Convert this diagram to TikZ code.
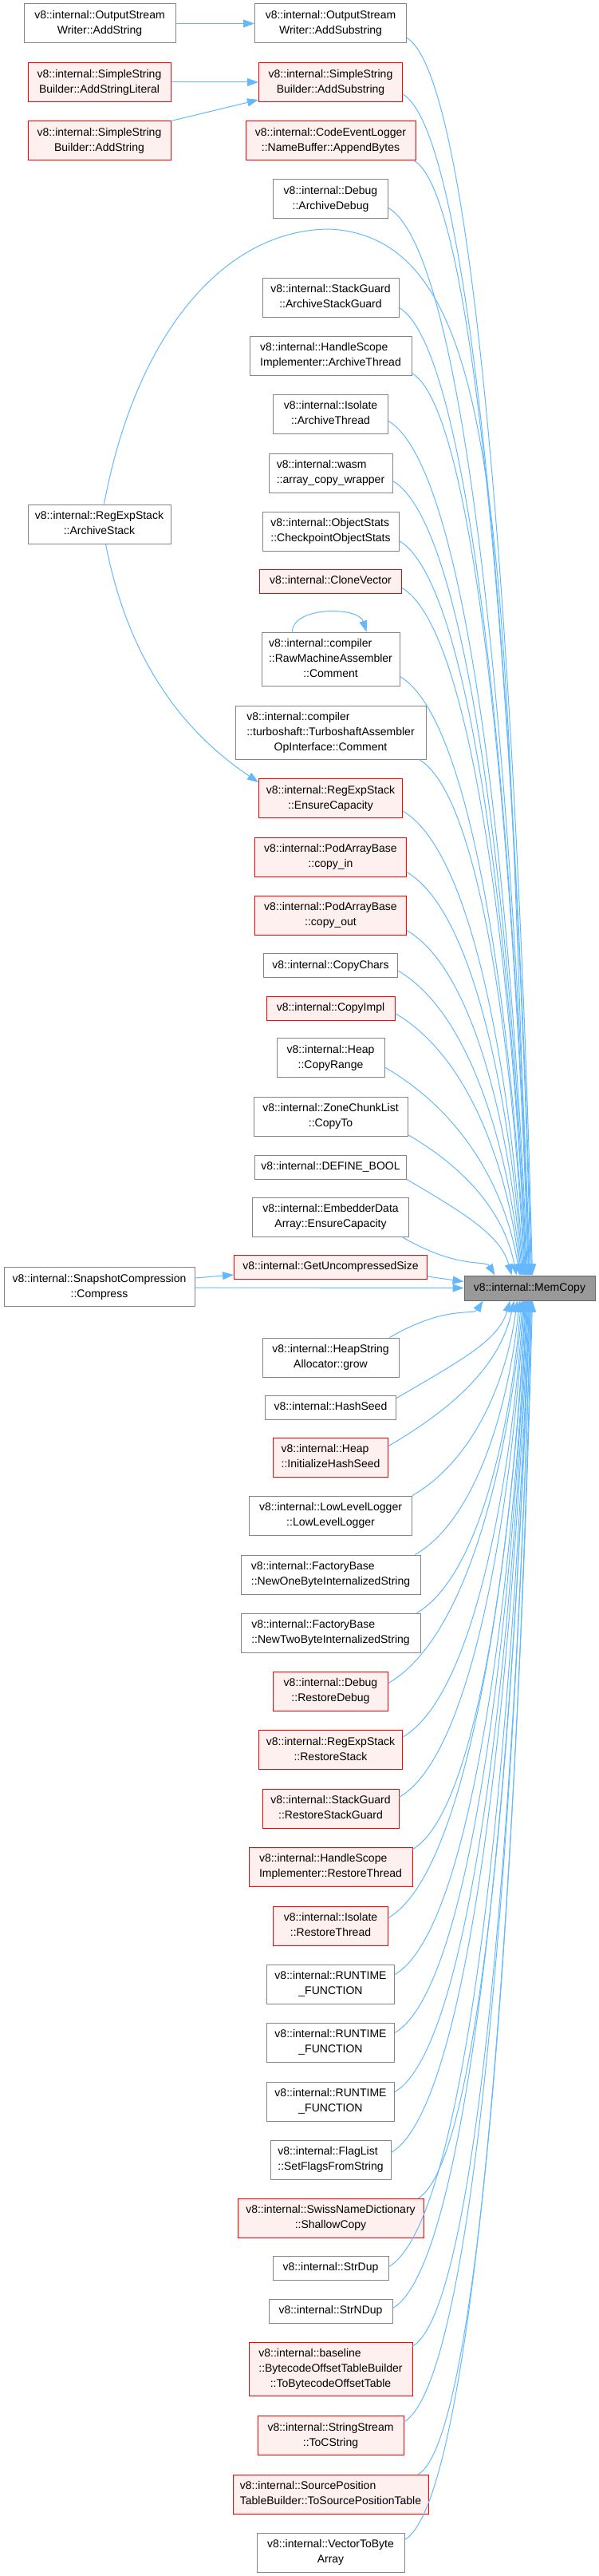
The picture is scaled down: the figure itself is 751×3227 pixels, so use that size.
\documentclass[tikz,border=0pt]{standalone}
\usepackage{fontspec}
\setmainfont{Liberation Sans}
\usetikzlibrary{arrows.meta,calc}
\definecolor{edgec}{HTML}{63B8FF}
\definecolor{nbord}{HTML}{858585}
\definecolor{rfill}{HTML}{FFF0F0}
\definecolor{rbord}{HTML}{FF0000}
\definecolor{mcfill}{HTML}{999999}
\definecolor{mcbord}{HTML}{666666}
\newcommand\lbA[2]{\begin{tabular}{@{}l@{}}#1\\\multicolumn{1}{@{}c@{}}{#2}\end{tabular}}
\newcommand\lbB[3]{\begin{tabular}{@{}l@{}}#1\\#2\\\multicolumn{1}{@{}c@{}}{#3}\end{tabular}}
\newcommand\lbS[1]{\begin{tabular}{@{}c@{}}#1\end{tabular}}
\tikzset{
  fn/.style={draw=nbord, fill=white, line width=1pt, inner sep=0pt, font=\fontsize{14}{19}\selectfont, text=black},
  fr/.style={fn, draw=rbord, fill=rfill},
  fm/.style={fn, draw=mcbord, fill=mcfill},
  wh/.style 2 args={minimum width=#1pt, minimum height=#2pt},
  edge/.style={draw=edgec, line width=1pt, -{Triangle[length=14pt,width=10pt]}},
}
% edge from a node above MemCopy to its top side
\newcommand\eA[2]{\draw[edge] let \p1=(#1), \p2=($(MC.north west)+(#2,0)$), \n1={\x2-\x1} in
  (\p1) .. controls ({\x1+0.6*\n1},{\y1-0.35*\n1}) and ({\x2-0.1*\n1},{\y2+0.4*(\y1-\y2)}) .. (\p2);}
% edge from a node below MemCopy to its bottom side
\newcommand\eB[2]{\draw[edge] let \p1=(#1), \p2=($(MC.south west)+(#2,0)$), \n1={\x2-\x1} in
  (\p1) .. controls ({\x1+0.6*\n1},{\y1+0.35*\n1}) and ({\x2-0.1*\n1},{\y2+0.4*(\y1-\y2)}) .. (\p2);}
\begin{document}
\begin{tikzpicture}[x=1pt,y=-1pt]
\useasboundingbox (0,0) rectangle (751,3227);
% left column
\node[fn, wh={190}{49}] (A1) at (125,29.5) {\lbA{v8::internal::OutputStream}{Writer::AddString}};
\node[fr, wh={179}{49}] (B1) at (124.5,103) {\lbA{v8::internal::SimpleString}{Builder::AddStringLiteral}};
\node[fr, wh={179}{49}] (B3) at (124.5,176.5) {\lbA{v8::internal::SimpleString}{Builder::AddString}};
\node[fn, wh={179}{49}] (RS) at (124.5,656.5) {\lbA{v8::internal::RegExpStack}{::ArchiveStack}};
\node[fn, wh={239}{49}] (W) at (124.5,1612) {\lbA{v8::internal::SnapshotCompression}{::Compress}};
% middle column
\node[fn, wh={190}{49}] (A2) at (414.5,29.5) {\lbA{v8::internal::OutputStream}{Writer::AddSubstring}};
\node[fr, wh={180}{49}] (B2) at (414.5,103) {\lbA{v8::internal::SimpleString}{Builder::AddSubstring}};
\node[fr, wh={213}{49}] (C) at (414.5,176.5) {\lbA{v8::internal::CodeEventLogger}{::NameBuffer::AppendBytes}};
\node[fn, wh={144}{49}] (D) at (414.5,249.5) {\lbA{v8::internal::Debug}{::ArchiveDebug}};
\node[fn, wh={171}{49}] (E) at (414.5,372.5) {\lbA{v8::internal::StackGuard}{::ArchiveStackGuard}};
\node[fn, wh={203}{49}] (F) at (414.5,445.5) {\lbA{v8::internal::HandleScope}{Implementer::ArchiveThread}};
\node[fn, wh={144}{49}] (G) at (414.5,518.5) {\lbA{v8::internal::Isolate}{::ArchiveThread}};
\node[fn, wh={155}{49}] (H) at (414.5,592.5) {\lbA{v8::internal::wasm}{::array\_copy\_wrapper}};
\node[fn, wh={171}{49}] (I) at (414.5,665.5) {\lbA{v8::internal::ObjectStats}{::CheckpointObjectStats}};
\node[fr, wh={178}{30}] (J) at (414.5,728) {\lbS{v8::internal::CloneVector}};
\node[fn, wh={173}{67}] (K) at (414.5,825.5) {\lbB{v8::internal::compiler}{::RawMachineAssembler}{::Comment}};
\node[fn, wh={239}{67}] (L) at (414.5,917.5) {\lbB{v8::internal::compiler}{::turboshaft::TurboshaftAssembler}{OpInterface::Comment}};
\node[fr, wh={180}{49}] (M) at (414.5,1000) {\lbA{v8::internal::RegExpStack}{::EnsureCapacity}};
\node[fr, wh={190}{49}] (N) at (414.5,1073.5) {\lbA{v8::internal::PodArrayBase}{::copy\_in}};
\node[fr, wh={190}{49}] (O) at (414.5,1146.5) {\lbA{v8::internal::PodArrayBase}{::copy\_out}};
\node[fn, wh={168}{30}] (P) at (414.5,1209.5) {\lbS{v8::internal::CopyChars}};
\node[fr, wh={161}{30}] (Q) at (414.5,1263) {\lbS{v8::internal::CopyImpl}};
\node[fn, wh={135}{49}] (R) at (414.5,1325) {\lbA{v8::internal::Heap}{::CopyRange}};
\node[fn, wh={193}{49}] (S) at (414.5,1398.5) {\lbA{v8::internal::ZoneChunkList}{::CopyTo}};
\node[fn, wh={190}{30}] (T) at (414.5,1462) {\lbS{v8::internal::DEFINE\_BOOL}};
\node[fn, wh={196}{49}] (U) at (414.5,1524.5) {\lbA{v8::internal::EmbedderData}{Array::EnsureCapacity}};
\node[fr, wh={242}{30}] (V) at (414.5,1587) {\lbS{v8::internal::GetUncompressedSize}};
\node[fn, wh={171}{49}] (X) at (414.5,1700.5) {\lbA{v8::internal::HeapString}{Allocator::grow}};
\node[fn, wh={164}{30}] (Y) at (414.5,1763) {\lbS{v8::internal::HashSeed}};
\node[fr, wh={144}{49}] (Z) at (414.5,1825.5) {\lbA{v8::internal::Heap}{::InitializeHashSeed}};
\node[fn, wh={204}{49}] (AA) at (414.5,1898.5) {\lbA{v8::internal::LowLevelLogger}{::LowLevelLogger}};
\node[fn, wh={225}{49}] (AB) at (414.5,1972.5) {\lbA{v8::internal::FactoryBase}{::NewOneByteInternalizedString}};
\node[fn, wh={225}{49}] (AC) at (414.5,2045.5) {\lbA{v8::internal::FactoryBase}{::NewTwoByteInternalizedString}};
\node[fr, wh={144}{49}] (AD) at (414.5,2118.5) {\lbA{v8::internal::Debug}{::RestoreDebug}};
\node[fr, wh={180}{49}] (AE) at (414.5,2192) {\lbA{v8::internal::RegExpStack}{::RestoreStack}};
\node[fr, wh={171}{49}] (AF) at (414.5,2265.5) {\lbA{v8::internal::StackGuard}{::RestoreStackGuard}};
\node[fr, wh={205}{49}] (AG) at (414.5,2338.5) {\lbA{v8::internal::HandleScope}{Implementer::RestoreThread}};
\node[fr, wh={144}{49}] (AH) at (414.5,2412.5) {\lbA{v8::internal::Isolate}{::RestoreThread}};
\node[fn, wh={160}{49}] (AI) at (414.5,2485.5) {\lbA{v8::internal::RUNTIME}{\_FUNCTION}};
\node[fn, wh={160}{49}] (AJ) at (414.5,2558.5) {\lbA{v8::internal::RUNTIME}{\_FUNCTION}};
\node[fn, wh={160}{49}] (AK) at (414.5,2632.5) {\lbA{v8::internal::RUNTIME}{\_FUNCTION}};
\node[fn, wh={151}{49}] (AL) at (414.5,2705.5) {\lbA{v8::internal::FlagList}{::SetFlagsFromString}};
\node[fr, wh={233}{49}] (AM) at (414.5,2778.5) {\lbA{v8::internal::SwissNameDictionary}{::ShallowCopy}};
\node[fn, wh={145}{30}] (AN) at (414.5,2841) {\lbS{v8::internal::StrDup}};
\node[fn, wh={155}{30}] (AO) at (414.5,2895) {\lbS{v8::internal::StrNDup}};
\node[fr, wh={205}{67}] (AP) at (414.5,2968) {\lbB{v8::internal::baseline}{::BytecodeOffsetTableBuilder}{::ToBytecodeOffsetTable}};
\node[fr, wh={183}{49}] (AQ) at (414.5,3051) {\lbA{v8::internal::StringStream}{::ToCString}};
\node[fr, wh={245}{49}] (AR) at (414.5,3124.5) {\lbA{v8::internal::SourcePosition}{TableBuilder::ToSourcePositionTable}};
\node[fn, wh={185}{49}] (AS) at (414.5,3197.5) {\lbA{v8::internal::VectorToByte}{Array}};
% right column
\node[fm, wh={164}{31}] (MC) at (664,1613.5) {\lbS{v8::internal::MemCopy}};
% edges among callers
\draw[edge] (A1) -- (A2);
\draw[edge] (B1) -- (B2);
\draw[edge] (B3.north east) -- ($(B2.south west)+(0,-3)$);
\draw[edge] ($(RS.south)+(8,0)$) .. controls (165,850) and (250,930) .. ($(M.north west)+(0,5)$);
\draw[edge] ($(K.north west)+(39,0)$) .. controls +(0,-32) and +(-10,-32) .. ($(K.north west)+(132,0)$);
\draw[edge] ($(W.east)+(0,-11)$) -- ($(V.west)+(0,10)$);
\draw[edge] ($(W.east)+(0,1)$) -- (MC.west);
\draw[edge] ($(V.east)+(0,12)$) -- ($(MC.west)+(0,-8)$);
\draw[edge] ($(RS.north)+(6,0)$) .. controls (170,420) and (280,287) .. (414,287)
  .. controls (640,300) and (630,700) .. ($(MC.north west)+(82,0)$);
% edges into MemCopy from above
\eA{$(A2.south east)+(0,-7)$}{86}
\eA{$(B2.south east)+(0,-10)$}{85}
\eA{$(C.south east)+(-2,0)$}{84}
\eA{$(D.south east)+(0,-14)$}{83}
\eA{$(E.south east)+(0,-12)$}{82}
\eA{$(F.south east)+(0,-3)$}{81}
\eA{$(G.south east)+(0,-16)$}{80}
\eA{$(H.south east)+(0,-15)$}{79}
\eA{$(I.south east)+(0,-13)$}{78}
\eA{$(J.south east)+(0,-7)$}{78}
\eA{$(K.south east)+(0,-12)$}{77}
\eA{$(L.south east)+(-9,0)$}{76}
\eA{$(M.south east)+(0,-9)$}{75}
\eA{$(N.south east)+(0,-6)$}{74}
\eA{$(O.south east)+(0,-6)$}{73}
\eA{$(P.south east)+(0,-9)$}{72}
\eA{$(Q.south east)+(0,-9)$}{71}
\eA{$(R.south east)+(0,-13)$}{70}
\eA{$(S.south east)+(0,-2)$}{66}
\eA{$(T.south east)+(0,0)$}{60}
\eA{$(U.south east)+(-9,0)$}{39}
% edges into MemCopy from below
\eB{$(X.north east)+(-12,0)$}{24}
\eB{$(Y.north east)+(0,4)$}{58}
\eB{$(Z.north east)+(0,11)$}{63}
\eB{$(AA.north east)+(0,0)$}{67}
\eB{$(AB.north east)+(-7,0)$}{70}
\eB{$(AC.north east)+(-5,0)$}{72}
\eB{$(AD.north east)+(0,15)$}{74}
\eB{$(AE.north east)+(0,9)$}{75}
\eB{$(AF.north east)+(0,11)$}{76}
\eB{$(AG.north east)+(0,3)$}{77}
\eB{$(AH.north east)+(0,15)$}{78}
\eB{$(AI.north east)+(0,13)$}{79}
\eB{$(AJ.north east)+(0,13)$}{79}
\eB{$(AK.north east)+(0,13)$}{80}
\eB{$(AL.north east)+(0,16)$}{81}
\eB{$(AM.north east)+(-7,0)$}{82}
\eB{$(AN.north east)+(0,14)$}{82}
\eB{$(AO.north east)+(0,12)$}{83}
\eB{$(AP.north east)+(0,5)$}{84}
\eB{$(AQ.north east)+(0,8)$}{84}
\eB{$(AR.north east)+(-13,0)$}{85}
\eB{$(AS.north east)+(0,9)$}{86}
\end{tikzpicture}
\end{document}
